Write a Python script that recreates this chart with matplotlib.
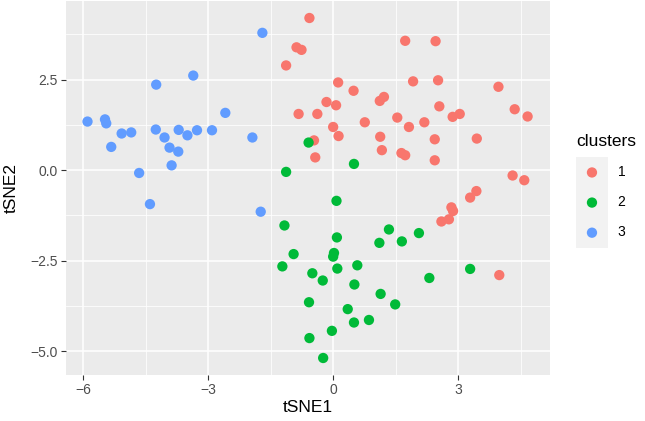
import matplotlib
matplotlib.use("Agg")
import matplotlib.pyplot as plt
from matplotlib.patches import Rectangle
import numpy as np

# tSNE coordinates, one pair of lists per cluster
c1_x = [-0.57, -0.88, -0.76, -1.13, 1.73, 2.46, 0.12, 1.92, 2.52, 3.97,
        0.49, -0.16, 0.07, 1.12, 1.22, -0.83, -0.38, 2.55, 4.36, 4.67,
        2.87, 3.04, 1.54, 0.76, 2.19, 0.00, 1.82, 0.13, 1.13, 2.44,
        3.45, -0.46, -0.43, 1.17, 1.64, 1.73, 2.44, 4.31, 4.59, 3.44,
        3.29, 2.84, 2.88, 2.78, 2.60, 3.99]
c1_y = [4.20, 3.39, 3.32, 2.89, 3.57, 3.56, 2.42, 2.45, 2.48, 2.30,
        2.19, 1.88, 1.79, 1.91, 2.02, 1.55, 1.55, 1.76, 1.68, 1.48,
        1.47, 1.55, 1.45, 1.32, 1.32, 1.19, 1.19, 0.94, 0.92, 0.85,
        0.87, 0.82, 0.35, 0.55, 0.47, 0.41, 0.27, -0.15, -0.28, -0.58,
        -0.76, -1.03, -1.13, -1.36, -1.42, -2.90]

c2_x = [-0.59, 0.50, -1.13, 0.08, -1.17, 1.34, 2.06, 0.09, 1.11, 1.65,
        -0.95, 0.02, 0.00, -1.22, 0.58, 0.10, 3.29, -0.50, -0.25, 2.31,
        0.51, 1.14, 1.49, -0.58, 0.35, 0.50, 0.86, -0.03, -0.57, -0.24]
c2_y = [0.76, 0.17, -0.05, -0.85, -1.53, -1.64, -1.74, -1.86, -2.01, -1.97,
        -2.32, -2.29, -2.39, -2.66, -2.63, -2.72, -2.73, -2.85, -3.05, -2.98,
        -3.16, -3.42, -3.71, -3.65, -3.84, -4.21, -4.14, -4.44, -4.64, -5.19]

c3_x = [-1.70, -3.36, -4.25, -2.59, -5.90, -5.48, -5.45, -5.08, -4.85, -5.33,
        -4.26, -4.05, -3.71, -3.50, -3.27, -2.91, -3.93, -3.72, -3.88, -4.66,
        -1.94, -4.40, -1.74]
c3_y = [3.79, 2.61, 2.36, 1.58, 1.34, 1.40, 1.29, 1.01, 1.04, 0.64,
        1.12, 0.90, 1.11, 0.96, 1.10, 1.10, 0.62, 0.51, 0.13, -0.08,
        0.90, -0.94, -1.15]

cluster_labels = ['1', '2', '3']
cluster_colors = ['#F8766D', '#00BA38', '#619CFF']

x_ticks = [-6, -3, 0, 3]
x_labels = ['\u22126', '\u22123', '0', '3']
y_ticks = [-5.0, -2.5, 0.0, 2.5]
y_labels = ['\u22125.0', '\u22122.5', '0.0', '2.5']

plt.rcParams['font.family'] = ['Liberation Sans', 'DejaVu Sans']

W, H = 645, 421
fig = plt.figure(figsize=(W / 100, H / 100), dpi=100)
fig.patch.set_facecolor('white')

# panel placed in pixel terms
left, right, top, bottom = 65.5, 549.6, 1.0, 375.0
ax = fig.add_axes([left / W, 1 - bottom / H, (right - left) / W, (bottom - top) / H])
ax.set_facecolor('#EBEBEB')

handles = []
for xs, ys, col, lab in zip([c1_x, c2_x, c3_x], [c1_y, c2_y, c3_y],
                            cluster_colors, cluster_labels):
    h = ax.scatter(xs, ys, s=55, color=col, edgecolors='none', zorder=3, label=lab)
    handles.append(h)

# ggplot-style 5% expansion of data range
all_x = np.array(c1_x + c2_x + c3_x)
all_y = np.array(c1_y + c2_y + c3_y)
rx = all_x.max() - all_x.min()
ry = all_y.max() - all_y.min()
ax.set_xlim(all_x.min() - 0.05 * rx, all_x.max() + 0.05 * rx)
ax.set_ylim(all_y.min() - 0.05 * ry, all_y.max() + 0.05 * ry)

ax.set_xticks(x_ticks)
ax.set_xticklabels(x_labels)
ax.set_yticks(y_ticks)
ax.set_yticklabels(y_labels)
ax.set_xticks([-4.5, -1.5, 1.5, 4.5], minor=True)
ax.set_yticks([-3.75, -1.25, 1.25, 3.75], minor=True)

ax.grid(which='major', color='white', linewidth=1.1, zorder=1)
ax.grid(which='minor', color='white', linewidth=0.55, zorder=1)
ax.set_axisbelow(True)
for sp in ax.spines.values():
    sp.set_visible(False)

ax.tick_params(which='major', length=3.6, width=0.8, color='#333333',
               labelsize=10, labelcolor='#4D4D4D', pad=2)
ax.tick_params(which='minor', length=0)

ax.set_xlabel('tSNE1', fontsize=12.5, color='black', labelpad=2)
ax.set_ylabel('tSNE2', fontsize=12.5, color='black', labelpad=8)

# legend with grey key background
fig.patches.append(Rectangle((576 / W, 1 - 248 / H), 32 / W, 91 / H,
                             transform=fig.transFigure, facecolor='#F2F2F2',
                             edgecolor='none', zorder=1))
leg = fig.legend(handles=handles, title='clusters', loc='upper left',
                 bbox_to_anchor=(576 / W, 1 - 134 / H), frameon=False,
                 fontsize=10, title_fontsize=12.5, scatterpoints=1,
                 handlelength=2.3, handletextpad=0.7, labelspacing=1.16,
                 borderpad=0, borderaxespad=0, alignment='left')
leg.set_zorder(5)

fig.savefig('out.png', dpi=100)
